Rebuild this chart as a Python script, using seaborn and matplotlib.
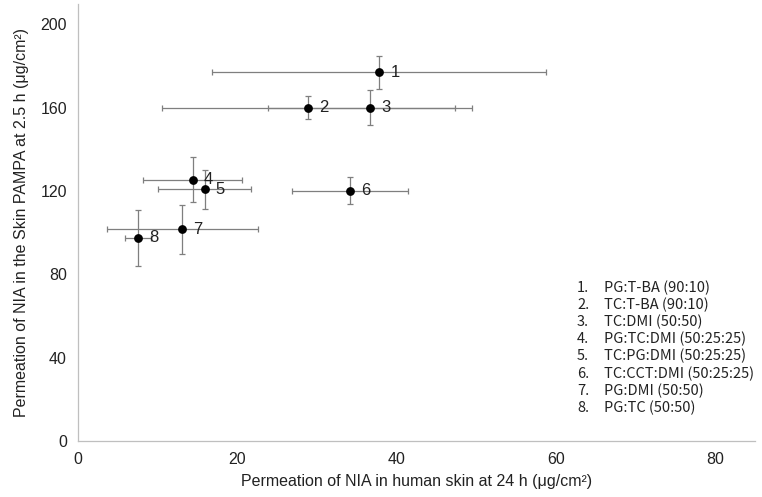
import matplotlib
matplotlib.use("Agg")
import matplotlib.pyplot as plt
import seaborn as sns
import pandas as pd

labels = ["1", "2", "3", "4", "5", "6", "7", "8"]
skin_24h = [37.8, 28.9, 36.7, 14.4, 15.9, 34.1, 13.1, 7.5]
skin_24h_err = [21.0, 18.4, 12.8, 6.2, 5.8, 7.3, 9.5, 1.6]
pampa_2_5h = [177.1, 160.0, 160.0, 125.5, 120.8, 120.2, 101.6, 97.5]
pampa_2_5h_err = [7.9, 5.5, 8.4, 10.8, 9.4, 6.5, 11.7, 13.3]
legend_entries = [
    "PG:T-BA (90:10)",
    "TC:T-BA (90:10)",
    "TC:DMI (50:50)",
    "PG:TC:DMI (50:25:25)",
    "TC:PG:DMI (50:25:25)",
    "TC:CCT:DMI (50:25:25)",
    "PG:DMI (50:50)",
    "PG:TC (50:50)",
]
x_ticks = [0, 20, 40, 60, 80]
y_ticks = [0, 40, 80, 120, 160, 200]

df = pd.DataFrame({"label": labels, "x": skin_24h, "xerr": skin_24h_err,
                   "y": pampa_2_5h, "yerr": pampa_2_5h_err})

sns.set_theme(style="white")
plt.rcParams["font.family"] = ["Liberation Sans", "DejaVu Sans"]

fig = plt.figure(figsize=(7.62, 4.97), dpi=100)
ax = fig.add_axes([0.1024, 0.1127, 0.8886, 0.88])

ax.errorbar(df["x"], df["y"], xerr=df["xerr"], yerr=df["yerr"], fmt="none",
            ecolor="#7f7f7f", elinewidth=0.9, capsize=2.5, capthick=0.9, zorder=2)
sns.scatterplot(data=df, x="x", y="y", ax=ax, color="black", s=40,
                edgecolor="black", linewidth=0, zorder=3, legend=False)

for _, r in df.iterrows():
    ax.annotate(r["label"], (r["x"], r["y"]), xytext=(8, 0), textcoords="offset points",
                va="center", ha="left", fontsize=12, color="#222222")

ax.set_xlim(0, 85)
ax.set_ylim(0, 210)
ax.set_xticks(x_ticks)
ax.set_yticks(y_ticks)
ax.tick_params(axis="both", direction="in", length=3, width=0.8, color="#bfbfbf",
               labelsize=11.5, labelcolor="#222222", pad=8)
ax.tick_params(axis="x", pad=8)
for s in ["top", "right"]:
    ax.spines[s].set_visible(False)
for s in ["left", "bottom"]:
    ax.spines[s].set_color("#bfbfbf")
    ax.spines[s].set_linewidth(0.9)

ax.set_xlabel("Permeation of NIA in human skin at 24 h (μg/cm²)", fontsize=11.5,
              color="#222222", labelpad=5)
ax.set_ylabel("Permeation of NIA in the Skin PAMPA at 2.5 h (μg/cm²)", fontsize=11.5,
              color="#222222", labelpad=8)

for i, entry in enumerate(legend_entries):
    ypix = 288 + i * 17.1
    yf = 1 - ypix / 497
    fig.text(577 / 762, yf, f"{i + 1}.", fontsize=10.5, va="center", ha="left",
             family=["Noto Sans CJK SC", "DejaVu Sans"], color="#222222")
    fig.text(604 / 762, yf, entry, fontsize=10.5, va="center", ha="left",
             family=["Noto Sans CJK SC", "DejaVu Sans"], color="#222222")

fig.savefig("out.png", dpi=100)
